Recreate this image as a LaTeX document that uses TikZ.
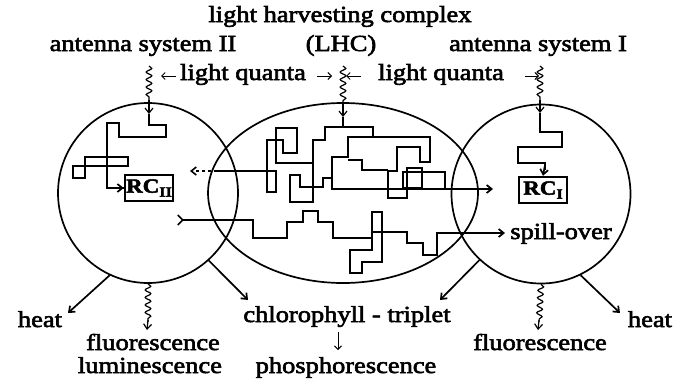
\documentclass[tikz,border=0pt]{standalone}
\usepackage{fontspec}
\setmainfont{Liberation Serif}[FakeStretch=1.15,FakeBold=2.6]
\usetikzlibrary{arrows.meta,decorations.pathmorphing,shapes.geometric}
\begin{document}
\begin{tikzpicture}[x=1pt,y=-1pt,line width=1.7pt,
  lbl/.style={font=\fontsize{23}{23}\selectfont,inner sep=0pt,anchor=base},
  tip/.style={-{Straight Barb[length=5pt,width=8pt]}},
  wavy/.style={line width=1.2pt,decorate,decoration={snake,amplitude=2.8pt,segment length=7.5pt}},
  walk/.style={line width=1.6pt},
  rcbox/.style={draw,line width=2.5pt,inner sep=0pt,minimum width=48pt,minimum height=26pt,font=\fontsize{20}{20}\selectfont\bfseries}]
\useasboundingbox (0,0) rectangle (676,383);

% membranes
\node[draw,circle,minimum size=180pt,inner sep=0pt] (ps2) at (148,193) {};
\node[draw,ellipse,minimum width=270pt,minimum height=180pt,inner sep=0pt] (lhcE) at (343,193) {};
\node[draw,circle,minimum size=179pt,inner sep=0pt] (ps1) at (541,194) {};

% texts
\node[lbl] (lhc) at (340,22) {light harvesting complex};
\node[lbl] (as2) at (143,51) {antenna system II};
\node[lbl] (lhcb) at (341,51) {(LHC)};
\node[lbl] (as1) at (538,51) {antenna system I};
\node[lbl] (lq1) at (243,80) {light quanta};
\node[lbl] (lq2) at (441,80) {light quanta};
\node[lbl] (so) at (561,239) {spill-over};
\node[lbl] (heatL) at (40,327) {heat};
\node[lbl] (flL) at (153,350) {fluorescence};
\node[lbl] (lum) at (150,373) {luminescence};
\node[lbl] (chl) at (347,322) {chlorophyll - triplet};
\node[lbl] (pho) at (346,373) {phosphorescence};
\node[lbl] (flR) at (540,350) {fluorescence};
\node[lbl] (heatR) at (650,327) {heat};

% reaction centres
\node[rcbox] (rc2) at (149,188) {RC\raisebox{-4pt}{\fontsize{14}{14}\selectfont II}};
\node[rcbox] (rc1) at (543,190) {RC\raisebox{-4pt}{\fontsize{14}{14}\selectfont I}};

% antenna inputs
\coordinate (a2t) at (149,66); \coordinate (a2m) at (149,100); \coordinate (a2b) at (149,114);
\coordinate (amt) at (343,66); \coordinate (amm) at (343,102); \coordinate (amb) at (343,117);
\coordinate (a1t) at (540,66); \coordinate (a1m) at (540,100); \coordinate (a1b) at (540,113);
\draw[wavy] (a2t) -- (a2m); \draw[tip,line width=1.2pt] (a2m) -- (a2b);
\draw[wavy] (amt) -- (amm); \draw[tip,line width=1.2pt] (amm) -- (amb);
\draw[wavy] (a1t) -- (a1m); \draw[tip,line width=1.2pt] (a1m) -- (a1b);

% small arrows at light quanta
\coordinate (s1a) at (176,76); \coordinate (s1b) at (161,76);
\coordinate (s2a) at (317,76); \coordinate (s2b) at (332,76);
\coordinate (s3a) at (361,76); \coordinate (s3b) at (346,76);
\coordinate (s4a) at (525,76); \coordinate (s4b) at (539,76);
\foreach \p in {1,2,3,4} {\draw[line width=1pt,-{Straight Barb[length=3.5pt,width=7pt]}] (s\p a) -- (s\p b);}

% walk in PS II
\draw[walk] (a2b) -- (149,125) -- (166,125) -- (166,137) -- (119,137) -- (119,123) -- (107,123) -- (107,188) -- (124,188);
\draw[tip] (112,188) -- (rc2.west);
\draw[walk] (85,157) -- (128,157) -- (128,166) -- (73,166) -- (73,178) -- (85,178) -- cycle;

% walk in PS I
\draw[walk] (a1b) -- (540,132) -- (562,132) -- (562,147) -- (518,147) -- (518,163) -- (545,163) -- (545,170);
\draw[tip] (545,165) -- (rc1.north);

% walks in LHC
\draw[walk] (amb) -- (343,127) -- (325,127) -- (325,140) -- (313,140) -- (313,163) -- (276,163) -- (276,128) -- (297,128) -- (297,153) -- (283,153) -- (283,140) -- (267,140) -- (267,192) -- (276,192) -- (276,171) -- (217,171);
\coordinate (dl) at (190,171);
\draw[walk,dash pattern=on 3pt off 3pt,-{Straight Barb[length=5pt,width=8pt]}] (217,171) -- (dl);
\draw[walk] (343,127) -- (373,127) -- (373,137) -- (430,137) -- (430,162) -- (420,162) -- (420,147) -- (397,147) -- (397,171) -- (388,171) -- (388,198) -- (407,198) -- (407,168) -- (422,168) -- (422,188) -- (403,188) -- (403,172) -- (445,172) -- (445,189);
\coordinate (ar1) at (493,189);
\draw[walk] (373,137) -- (348,137) -- (348,157) -- (332,157) -- (332,189) -- (480,189);
\draw[tip] (470,189) -- (ar1);
\draw[walk] (348,160) -- (362,160) -- (362,170) -- (388,170);
\draw[walk] (313,163) -- (313,202) -- (290,202) -- (290,175) -- (300,175) -- (300,187) -- (323,187) -- (323,178) -- (332,178);

% lower walk to spill-over
\coordinate (lw0) at (177,220);
\coordinate (spl) at (505,233);
\draw[walk,{Straight Barb[reversed,length=5pt,width=10pt]}-] (lw0) -- (253,220) -- (253,238) -- (287,238) -- (287,222) -- (303,222) -- (303,211) -- (318,211) -- (318,222) -- (333,222) -- (333,238) -- (372,238) -- (372,212) -- (382,212) -- (382,262) -- (362,262) -- (362,273) -- (350,273) -- (350,250) -- (372,250) -- (372,232) -- (407,232) -- (407,243) -- (423,243) -- (423,255) -- (437,255) -- (437,233) -- (490,233);
\draw[tip] (480,233) -- (spl);

% outputs
\coordinate (hL) at (68,313); \coordinate (fL) at (147,330); \coordinate (cL) at (248,300);
\coordinate (cR) at (440,300); \coordinate (fR) at (538,330); \coordinate (hR) at (620,313);
\draw[tip] (ps2.-115) -- (hL);
\draw[wavy] (ps2.-90) -- (148,322); \draw[tip,line width=1.2pt] (148,320) -- (fL);
\draw[tip] (ps2.-48) -- (cL);
\draw[tip] (ps1.-133) -- (cR);
\draw[wavy] (ps1.-90) -- (539,322); \draw[tip,line width=1.2pt] (539,320) -- (fR);
\draw[tip] (ps1.-64) -- (hR);
\coordinate (dA) at (338,332); \coordinate (dB) at (338,350);
\draw[line width=1pt,-{Straight Barb[length=3.5pt,width=7pt]}] (dA) -- (dB);
\end{tikzpicture}
\end{document}
